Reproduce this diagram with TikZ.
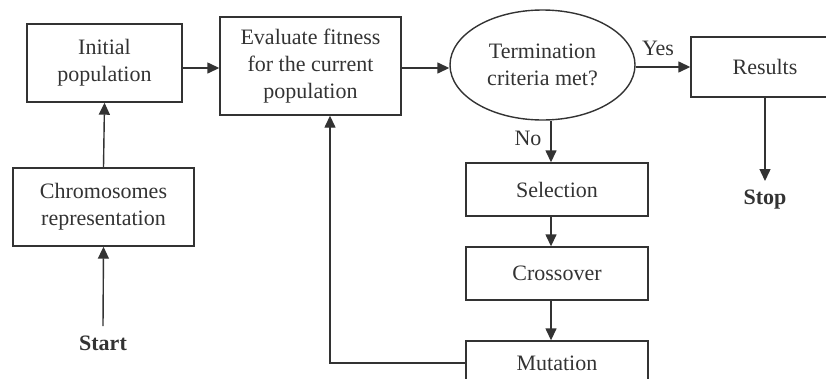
\documentclass[tikz,border=0pt]{standalone}
\usepackage{fontspec}
\setmainfont{Liberation Serif}
\usetikzlibrary{arrows.meta,shapes.geometric}
\definecolor{ink}{HTML}{333333}
\begin{document}
\begin{tikzpicture}[x=1pt,y=-1pt,
  every node/.style={font=\fontsize{22}{27}\selectfont, text=ink},
  box/.style={draw=ink, line width=1.4pt, rectangle, align=center, inner sep=0pt},
  oval/.style={draw=ink, line width=1.4pt, ellipse, align=center, inner sep=0pt},
  arr/.style={draw=ink, line width=1.4pt, -{Triangle[length=12pt,width=11pt]}},
  lbl/.style={inner sep=0pt}]
\useasboundingbox (0,0) rectangle (826,378);
\clip (0,0) rectangle (826,378);
\node[box, minimum width=155pt, minimum height=78pt] (init) at (104.5,63) {Initial\\population};
\node[box, minimum width=181pt, minimum height=78pt] (chrom) at (103.5,207) {Chromosomes\\representation};
\node[box, minimum width=181pt, minimum height=98pt] (eval) at (310.5,66) {Evaluate fitness\\for the current\\population};
\node[oval, minimum width=185pt, minimum height=110pt] (term) at (542.5,65) {Termination\\criteria met?};
\node[box, minimum width=148pt, minimum height=60pt] (res) at (765,67) {Results};
\node[box, minimum width=182pt, minimum height=53pt] (sel) at (557,189.5) {Selection};
\node[box, minimum width=182pt, minimum height=53pt] (cross) at (557,273.5) {Crossover};
\node[box, minimum width=182pt, minimum height=44pt] (mut) at (557,363) {Mutation};
\node[lbl, font=\fontsize{22}{27}\selectfont\bfseries] (start) at (103,343) {Start};
\node[lbl, font=\fontsize{22}{27}\selectfont\bfseries] (stop) at (765,200) {Stop};
\node[lbl] (yes) at (658,48) {Yes};
\node[lbl] (no) at (528,138) {No};
\coordinate (ya) at (0,68);
\coordinate (yb) at (0,67);
\coordinate (ax) at (551,0);
\coordinate (fbx) at (330,0);
\coordinate (starttop) at (103,326);
\coordinate (stoptop) at (765,181);
\draw[arr] (starttop) -- (chrom.south);
\draw[arr] (chrom.north) -- (init.south);
\draw[arr] (init.east |- ya) -- (eval.west |- ya);
\draw[arr] (eval.east |- ya) -- (term.west |- ya);
\draw[arr] (term.east |- yb) -- (res.west |- yb);
\draw[arr] (res.south) -- (stoptop);
\draw[arr] (term.south -| ax) -- (sel.north -| ax);
\draw[arr] (sel.south -| ax) -- (cross.north -| ax);
\draw[arr] (cross.south -| ax) -- (mut.north -| ax);
\draw[arr] (mut.west) -| (fbx |- eval.south);
\end{tikzpicture}
\end{document}
